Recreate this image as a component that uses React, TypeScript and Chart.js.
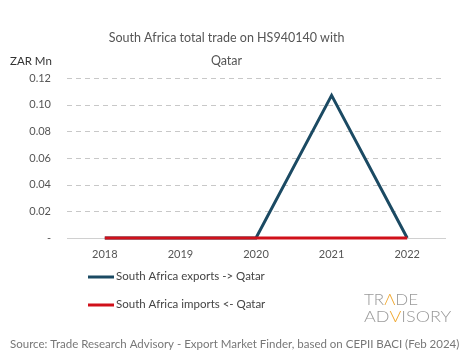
import React, { useEffect, useRef } from "react";
import { Chart, registerables } from "chart.js";

Chart.register(...registerables);

const years = ["2018", "2019", "2020", "2021", "2022"];
const exportsToQatar = [0, 0, 0, 0.107, 0];
const importsFromQatar = [0, 0, 0, 0, 0];
const seriesNames = ["South Africa exports -> Qatar", "South Africa imports <- Qatar"];
const seriesColors = ["#1b4a63", "#d0101a"];
const titleLines = ["South Africa total trade on HS940140 with", "Qatar"];
const unitLabel = "ZAR Mn";
const sourceText = "Source: Trade Research Advisory - Export Market Finder, based on CEPII BACI (Feb 2024)";

const FONT = "Lato";

const dashedGridPlugin = {
  id: "dashedGrid",
  beforeDatasetsDraw(chart: any) {
    const ctx = chart.ctx;
    const y = chart.scales.y;
    const area = chart.chartArea;
    ctx.save();
    ctx.strokeStyle = "#c8c8c8";
    ctx.lineWidth = 1;
    ctx.setLineDash([5, 4]);
    y.ticks.forEach((t: any) => {
      if (t.value === 0) return;
      const py = Math.round(y.getPixelForValue(t.value)) + 0.5;
      ctx.beginPath();
      ctx.moveTo(area.left, py);
      ctx.lineTo(area.right, py);
      ctx.stroke();
    });
    ctx.restore();
  },
};

const overlayPlugin = {
  id: "overlay",
  afterDraw(chart: any) {
    const ctx = chart.ctx;
    ctx.save();
    // unit label
    ctx.fillStyle = "#333";
    ctx.font = `11.5px ${FONT}`;
    ctx.textAlign = "left";
    ctx.textBaseline = "middle";
    ctx.fillText(unitLabel, 10, 61);

    // legend
    const legendY = [277, 305];
    seriesNames.forEach((name, i) => {
      ctx.strokeStyle = seriesColors[i];
      ctx.lineWidth = 3;
      ctx.beginPath();
      ctx.moveTo(88, legendY[i]);
      ctx.lineTo(114, legendY[i]);
      ctx.stroke();
      ctx.fillStyle = "#444";
      ctx.font = `11.5px ${FONT}`;
      ctx.textAlign = "left";
      ctx.textBaseline = "middle";
      ctx.fillText(name, 116, legendY[i] - 1);
    });

    // logo
    ctx.font = `300 16.5px ${FONT}`;
    ctx.textBaseline = "alphabetic";
    ctx.textAlign = "left";
    const drawParts = (parts: [string, string][], x: number, y: number, targetW: number) => {
      const full = parts.map((p) => p[0]).join("");
      const w = ctx.measureText(full).width;
      const s = targetW / w;
      ctx.save();
      ctx.translate(x, y);
      ctx.scale(s, 1);
      let cx = 0;
      parts.forEach(([t, c]) => {
        ctx.fillStyle = c;
        ctx.fillText(t, cx, 0);
        cx += ctx.measureText(t).width;
      });
      ctx.restore();
    };
    drawParts([["TR", "#9a9a9a"], ["\u039B", "#f0a830"], ["DE", "#9a9a9a"]], 364, 305, 54);
    drawParts([["AD", "#9a9a9a"], ["V", "#f0a830"], ["ISORY", "#9a9a9a"]], 364, 322, 87);

    // source
    ctx.fillStyle = "#777";
    ctx.font = `11.5px ${FONT}`;
    ctx.textAlign = "left";
    ctx.textBaseline = "middle";
    ctx.fillText(sourceText, 10, 344);
    ctx.restore();
  },
};

export default function App() {
  const ref = useRef<HTMLCanvasElement>(null);
  useEffect(() => {
    document.body.style.margin = "0";
    const chart = new Chart(ref.current!, {
      type: "line",
      data: {
        labels: years,
        datasets: [
          {
            label: seriesNames[0],
            data: exportsToQatar,
            borderColor: seriesColors[0],
            backgroundColor: seriesColors[0],
            borderWidth: 3,
            pointRadius: 0,
            tension: 0,
            order: 1,
            clip: false,
          },
          {
            label: seriesNames[1],
            data: importsFromQatar,
            borderColor: seriesColors[1],
            backgroundColor: seriesColors[1],
            borderWidth: 3,
            pointRadius: 0,
            tension: 0,
            order: 0,
            clip: false,
          },
        ],
      },
      options: {
        animation: false,
        responsive: false,
        layout: { padding: { left: 8, right: 20, top: 0, bottom: 97 } },
        plugins: {
          legend: { display: false },
          tooltip: { enabled: false },
          title: {
            display: true,
            text: titleLines,
            color: "#555",
            font: { family: FONT, size: 12.5, weight: "normal", lineHeight: 1.8 },
            padding: { top: 27, bottom: 6 },
          },
        },
        scales: {
          x: {
            offset: true,
            grid: { display: false, drawTicks: false },
            border: { display: true, color: "#d0d0d0", width: 1 },
            ticks: { color: "#555", font: { family: FONT, size: 11 }, padding: 10 },
            afterFit(scale: any) {
              scale.height = 24;
            },
          },
          y: {
            min: 0,
            max: 0.12,
            grid: { display: false, drawTicks: false },
            border: { display: false },
            ticks: {
              stepSize: 0.02,
              color: "#555",
              font: { family: FONT, size: 11 },
              padding: 16,
              callback: (v: any) => (Number(v) === 0 ? "-" : Number(v).toFixed(2)),
            },
            afterFit(scale: any) {
              scale.width = 59;
            },
          },
        },
      },
      plugins: [dashedGridPlugin, overlayPlugin],
    });
    return () => chart.destroy();
  }, []);
  return (
    <div style={{ width: 465, height: 359, background: "#fff" }}>
      <canvas ref={ref} width={465} height={359} style={{ width: 465, height: 359 }} />
    </div>
  );
}
